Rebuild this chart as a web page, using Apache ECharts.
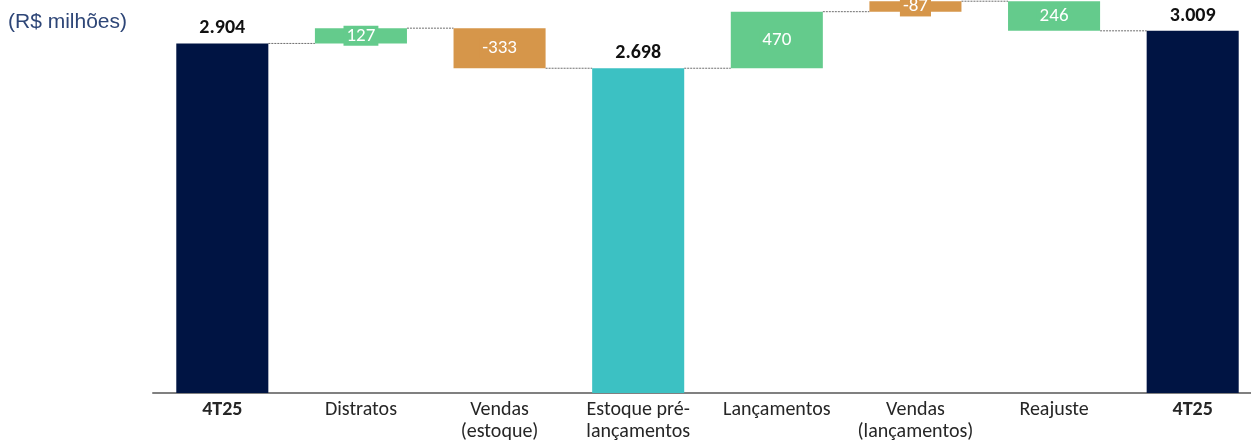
<!DOCTYPE html>
<html>
<head>
<meta charset="utf-8">
<script src="https://cdn.jsdelivr.net/npm/echarts@6/dist/echarts.min.js"></script>
<style>
  html, body { margin: 0; padding: 0; background: #fff; overflow: hidden; }
  #chart { width: 1262px; height: 443px; }
</style>
</head>
<body>
<div id="chart"></div>
<script>
// Inventory bridge, R$ millions
const categories = ['4T25', 'Distratos', 'Vendas\n(estoque)', 'Estoque pré-\nlançamentos', 'Lançamentos', 'Vendas\n(lançamentos)', 'Reajuste', '4T25'];
const values = [2904, 127, -333, 2698, 470, -87, 246, 3009];
// level where each floating bar starts (totals start at zero)
const barBase = [0, 2904, 2698, 0, 2698, 3168, 3009, 0];
const isTotal = [true, false, false, true, false, false, false, true];
const boldCategory = [true, false, false, false, false, false, false, true];

const COLORS = {
  total: '#001443',
  subtotal: '#3CC1C3',
  up: '#64CB8C',
  down: '#D6964A'
};

function barColor(i) {
  if (isTotal[i]) return (i === 3) ? COLORS.subtotal : COLORS.total;
  return values[i] >= 0 ? COLORS.up : COLORS.down;
}

function fmt(v) {
  return String(v).replace(/\B(?=(\d{3})+(?!\d))/g, '.');
}

// connector level shared by neighbouring bars
const connectors = [];
for (let i = 0; i < values.length - 1; i++) {
  const a = [barBase[i], barBase[i] + Math.abs(values[i])];
  const b = [barBase[i + 1], barBase[i + 1] + Math.abs(values[i + 1])];
  const common = a.filter(v => v !== 0 && b.indexOf(v) >= 0);
  if (common.length) connectors.push([i, common[0]]);
}

const BAR_FRACTION = 0.664;
const FONT = 'Carlito, Lato, "Open Sans", sans-serif';

const visibleData = values.map((v, i) => {
  const item = {
    value: Math.abs(v),
    itemStyle: { color: barColor(i) }
  };
  if (isTotal[i]) {
    item.label = {
      show: true, position: 'top', distance: 5,
      formatter: fmt(v),
      color: '#111', fontWeight: 'bold', fontSize: 20, fontFamily: FONT
    };
  } else {
    item.label = {
      show: true, position: 'inside',
      formatter: fmt(v),
      color: '#fff', fontSize: 19, fontFamily: FONT,
      backgroundColor: barColor(i),
      padding: [1, 3, 0, 3]
    };
  }
  return item;
});

const chart = echarts.init(document.getElementById('chart'), null, { renderer: 'canvas' });
chart.setOption({
  animation: false,
  title: {
    text: '(R$ milhões)',
    left: 8, top: 12, padding: 0,
    textStyle: { fontFamily: '"Liberation Sans", Arial, sans-serif', fontSize: 21, fontWeight: 'normal', color: '#2E4677' }
  },
  grid: { left: 153, top: 0, width: 1109, height: 393 },
  xAxis: {
    type: 'category',
    data: categories.map((c, i) => ({
      value: c,
      textStyle: { fontWeight: boldCategory[i] ? 'bold' : 'normal' }
    })),
    axisLine: { lineStyle: { color: '#808080', width: 2 } },
    axisTick: { show: false },
    axisLabel: {
      interval: 0, margin: 6, fontSize: 20, lineHeight: 22,
      color: '#262626', fontFamily: FONT
    }
  },
  yAxis: {
    type: 'value', min: 0, max: 3265,
    show: false, splitLine: { show: false }
  },
  series: [
    {
      name: 'base', type: 'bar', stack: 'w', barWidth: (BAR_FRACTION * 100) + '%',
      itemStyle: { color: 'transparent' },
      emphasis: { disabled: true },
      data: barBase
    },
    {
      name: 'valor', type: 'bar', stack: 'w', barWidth: (BAR_FRACTION * 100) + '%',
      data: visibleData,
      z: 3
    },
    {
      name: 'conectores', type: 'custom',
      data: connectors,
      z: 1,
      renderItem: function (params, api) {
        const idx = api.value(0);
        const lvl = api.value(1);
        const half = api.size([1, 0])[0] * BAR_FRACTION / 2;
        const p1 = api.coord([idx, lvl]);
        const p2 = api.coord([idx + 1, lvl]);
        return {
          type: 'line',
          shape: { x1: p1[0] + half, y1: p1[1], x2: p2[0] - half, y2: p2[1] },
          style: { stroke: '#6e6e6e', lineWidth: 1, lineDash: [2, 1] }
        };
      },
      encode: { x: 0, y: 1 }
    }
  ]
});
</script>
</body>
</html>
